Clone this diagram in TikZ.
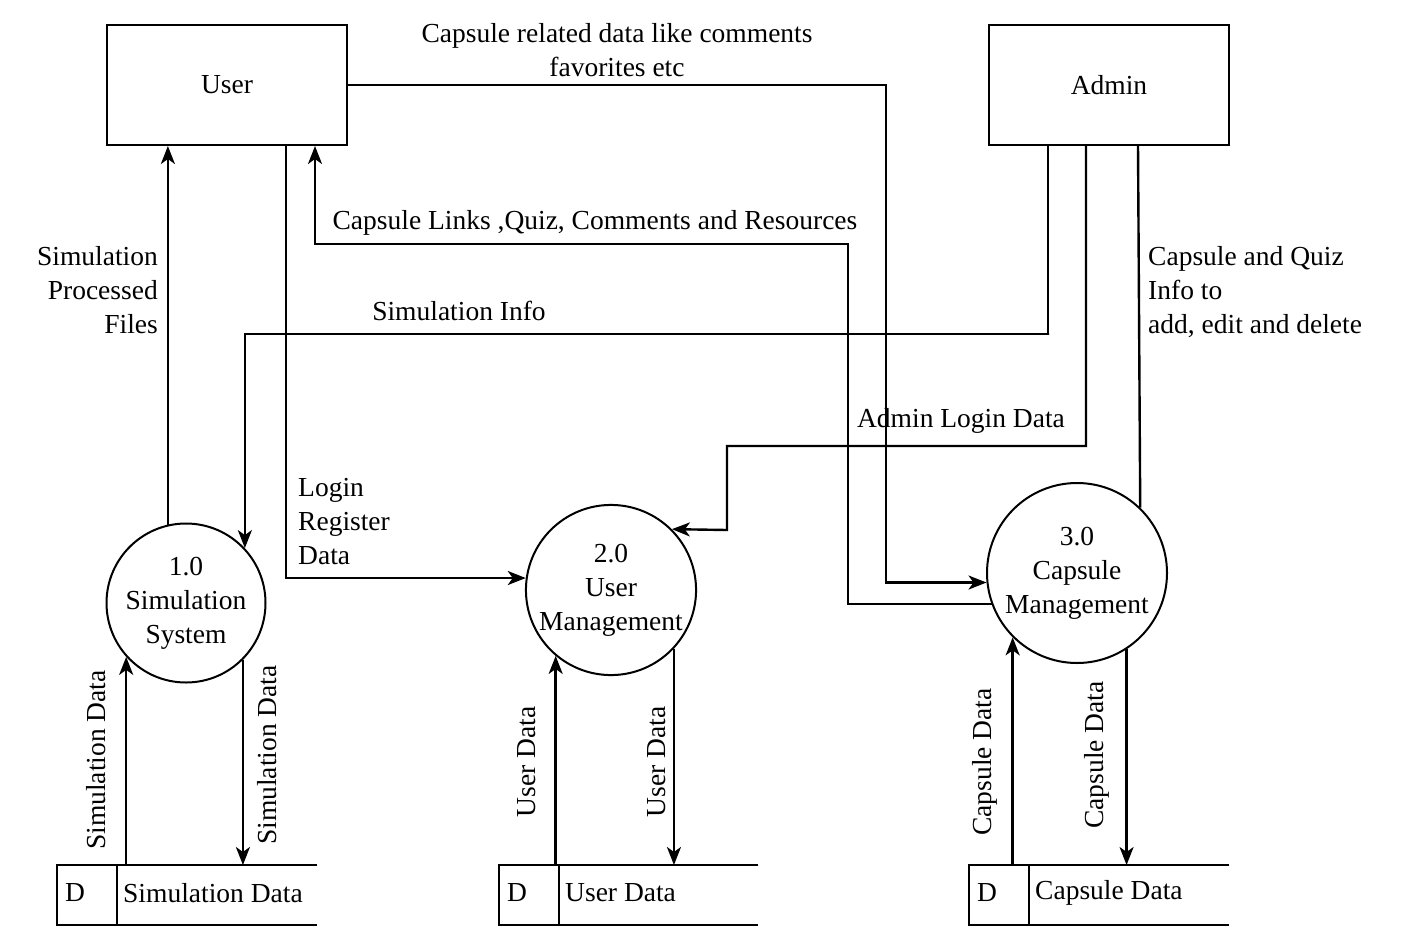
\documentclass[tikz,border=0pt]{standalone}
\usepackage{fontspec}
\setmainfont{Liberation Serif}
\usetikzlibrary{arrows.meta,calc}
\begin{document}
\begin{tikzpicture}[x=1pt,y=-1pt,
  every node/.style={font=\fontsize{27.5}{34}\selectfont},
  line/.style={line width=2.4pt},
  arr/.style={line width=2.4pt,-{Stealth[length=18pt,width=14pt,inset=5pt]}},
  ent/.style={draw,line width=2pt,minimum width=240pt,minimum height=120pt,inner sep=0pt},
  proc/.style={draw,circle,line width=2pt,inner sep=0pt,align=center},
  lbl/.style={inner sep=0pt}]
\useasboundingbox (0,0) rectangle (1404,926);
\fill[white] (0,0) rectangle (1404,926);
% entities
\node[ent] (user) at (227,85) {User};
\node[ent] (admin) at (1109,85) {Admin};
% processes
\node[proc,minimum size=159pt] (c1) at (186,603) {1.0\\Simulation\\System};
\node[proc,minimum size=168pt] (c2) at (611,590) {2.0\\User\\Management};
\node[proc,minimum size=180pt] (c3) at (1077,573) {3.0\\Capsule\\Management};
% data stores
\foreach \n/\x/\t/\w in {s1/57/Simulation Data/260, s2/499/User Data/259, s3/969/Capsule Data/260}{
  \coordinate (\n tl) at (\x,865);
  \draw[line width=2pt] (\x+\w,865) -- (\x,865) -- (\x,925) -- (\x+\w,925);
  \draw[line width=2pt] (\x+60,865) -- (\x+60,925);
  \node[lbl,anchor=west] at (\x+8,893) {D};
  \node[lbl,anchor=west] at (\x+66,893) {\t};
}
% coordinates on entities
\coordinate (u1) at ($(user.south west)+(61,0)$);
\coordinate (u2) at ($(user.south west)+(180,0)$);
\coordinate (u3) at ($(user.south west)+(209,0)$);
\coordinate (a1) at ($(admin.south west)+(60,0)$);
\coordinate (a2) at ($(admin.south west)+(98,0)$);
\coordinate (a3) at ($(admin.south west)+(150,0)$);
\coordinate (b1) at (886,85);
\coordinate (b2) at (848,244);
\coordinate (b3) at (1049,334);
\coordinate (b4) at (1087,446);
\coordinate (b5) at (727,530);
% connectors
\draw[arr] (user.east) -- (b1) |- (c3.186);
\node[lbl,align=center] at (617,50) {Capsule related data like comments\\favorites etc};
\draw[arr] (c3.200) -| (b2) -| (u3);
\node[lbl] at (595,223) {Capsule Links ,Quiz, Comments and Resources};
\draw[arr] (u2) |- (c2.172);
\node[lbl,align=left,anchor=north west] at (298,478) {Login\\Register\\Data};
\draw[arr] (c1.103) -- (c1.103 |- user.south);
\node[lbl,align=right,anchor=north east] at (158,246) {Simulation\\Processed\\Files};
\draw[arr] (a1) |- (b3) -| (c1.43);
\node[lbl] at (459,311) {Simulation Info};
\draw[arr] (a2) |- (b4) -| (b5) -- (c2.45);
\node[lbl] at (961,421) {Admin Login Data};
\draw[line] (a3) -- (c3.46);
\node[lbl,align=left,anchor=north west] at (1148,246) {Capsule and Quiz\\Info to\\add, edit and delete};
% store flows
\draw[arr] (c1.222 |- s1tl) -- (c1.222);
\node[lbl,rotate=90] at (96,760) {Simulation Data};
\draw[arr] (c1.315) -- (c1.315 |- s1tl);
\node[lbl,rotate=90] at (267,755) {Simulation Data};
\draw[arr] (c2.230 |- s2tl) -- (c2.230);
\node[lbl,rotate=90] at (527,762) {User Data};
\draw[arr] (c2.317) -- (c2.317 |- s2tl);
\node[lbl,rotate=90] at (657,762) {User Data};
\draw[arr] (c3.225 |- s3tl) -- (c3.225);
\node[lbl,rotate=90] at (985,762) {Capsule Data};
\draw[arr] (c3.303) -- (c3.303 |- s3tl);
\node[lbl,rotate=90] at (1097,755) {Capsule Data};
\end{tikzpicture}
\end{document}
